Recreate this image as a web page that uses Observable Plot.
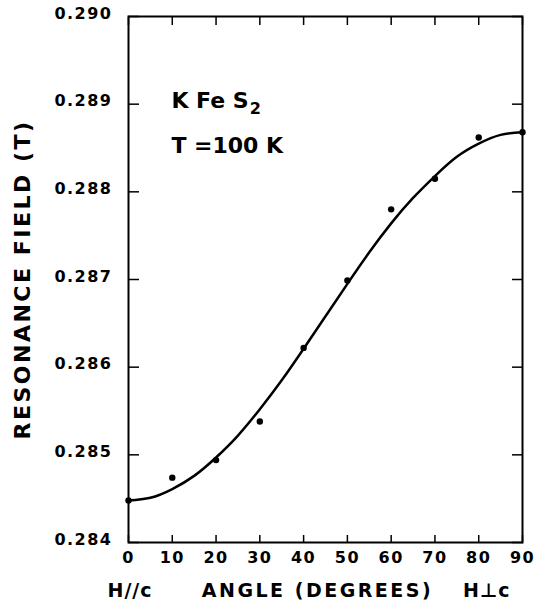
<!DOCTYPE html>
<html>
<head>
<meta charset="utf-8">
<script src="https://cdn.jsdelivr.net/npm/d3@7"></script>
<script src="https://cdn.jsdelivr.net/npm/@observablehq/plot@0.6"></script>
<style>
  html, body { margin: 0; padding: 0; background: #fff; }
  #chart svg { display: block; }
  #chart g[aria-label="x-axis tick label"] text,
  #chart g[aria-label="y-axis tick label"] text { letter-spacing: 1.5px; font-weight: bold; }
</style>
</head>
<body>
<div id="chart"></div>
<script>
// Measured resonance field vs. angle (KFeS2, T = 100 K)
const angles = [0, 10, 20, 30, 40, 50, 60, 70, 80, 90];
const fields = [0.28448, 0.28474, 0.28494, 0.28538, 0.28622, 0.28699, 0.28780, 0.28815, 0.28862, 0.28868];

// Fitted curve
const curveAngles = [0, 5, 10, 15, 20, 25, 30, 35, 40, 45, 50, 55, 60, 65, 70, 75, 80, 85, 90];
const curveFields = [0.28448, 0.28451, 0.28461, 0.28476, 0.28497, 0.28522, 0.28552, 0.28585, 0.28621, 0.28658,
                     0.28695, 0.28731, 0.28764, 0.28793, 0.28818, 0.28840, 0.28855, 0.28865, 0.28868];

const xTicks = [0, 10, 20, 30, 40, 50, 60, 70, 80, 90];
const yTicks = [0.284, 0.285, 0.286, 0.287, 0.288, 0.289, 0.290];

const yLabel = "RESONANCE FIELD (T)";
const xLabelLeft = "H//c";
const xLabelMid = "ANGLE (DEGREES)";
const xLabelRight = "H\u22A5c";
const compound = "K Fe S";
const compoundSub = "2";
const tempLabel = "T =100 K";

const points = angles.map((a, i) => ({angle: a, field: fields[i]}));
const curve = curveAngles.map((a, i) => ({angle: a, field: curveFields[i]}));

const font = "DejaVu Sans, sans-serif";

const chart = Plot.plot({
  width: 534,
  height: 612,
  marginLeft: 128,
  marginRight: 12,
  marginTop: 16,
  marginBottom: 70,
  style: {fontFamily: font, fontSize: "16px", color: "#000", background: "#fff"},
  x: {domain: [0, 90]},
  y: {domain: [0.284, 0.290]},
  marks: [
    Plot.frame({stroke: "#000", strokeWidth: 2}),
    // inward ticks on all four sides
    Plot.axisX(xTicks, {anchor: "bottom", tickSize: -7, fill: "none", label: null, strokeWidth: 1.5}),
    Plot.axisX(xTicks, {anchor: "top", tickSize: -8, fill: "none", label: null, strokeWidth: 1.5}),
    Plot.axisY(yTicks, {anchor: "left", tickSize: -11, fill: "none", label: null, strokeWidth: 1.5}),
    Plot.axisY(yTicks, {anchor: "right", tickSize: -11, fill: "none", label: null, strokeWidth: 1.5}),
    // tick labels
    Plot.axisX(xTicks, {anchor: "bottom", tickSize: 0, tickPadding: 9, label: null, fontSize: 16}),
    Plot.axisY(yTicks, {anchor: "left", tickSize: 0, tickPadding: 16, label: null, fontSize: 16,
      tickFormat: d3.format(".3f"), dy: -3}),
    // fitted curve and data
    Plot.line(curve, {x: "angle", y: "field", curve: "natural", stroke: "#000", strokeWidth: 2.5}),
    Plot.dot(points, {x: "angle", y: "field", r: 3.2, fill: "#000", stroke: "none"}),
    // annotations
    Plot.text([compound], {x: 9.8, y: 0.28896, text: d => d, textAnchor: "start", lineAnchor: "bottom",
      fontSize: 22, fontWeight: "bold", fill: "#000"}),
    Plot.text([tempLabel], {x: 9.8, y: 0.28844, text: d => d, textAnchor: "start", lineAnchor: "bottom",
      fontSize: 22, fontWeight: "bold", fill: "#000"}),
    // axis titles
    Plot.text([yLabel], {frameAnchor: "left", text: d => d, rotate: -90, dx: -106, textAnchor: "middle",
      lineAnchor: "middle", fontSize: 22, fontWeight: "bold", fill: "#000"}),
    Plot.text([xLabelLeft], {x: 0, frameAnchor: "bottom", text: d => d, textAnchor: "start", dx: -21, dy: 48,
      lineAnchor: "middle", fontSize: 19, fontWeight: "bold", fill: "#000"}),
    Plot.text([xLabelMid], {x: 45, frameAnchor: "bottom", text: d => d, textAnchor: "middle", dx: -8, dy: 48,
      lineAnchor: "middle", fontSize: 19, fontWeight: "bold", fill: "#000"}),
    Plot.text([xLabelRight], {x: 90, frameAnchor: "bottom", text: d => d, textAnchor: "end", dx: -12, dy: 48,
      lineAnchor: "middle", fontSize: 19, fontWeight: "bold", fill: "#000"})
  ]
});

// subscript 2 for the compound formula, appended as a real tspan
d3.select(chart).selectAll("text").filter(function() { return this.textContent === compound; })
  .append("tspan").attr("dy", 6).attr("dx", 1).attr("font-size", 16).text(compoundSub);

// letter spacing for titles
d3.select(chart).selectAll("text").filter(function() {
  return [yLabel, xLabelMid].includes(this.textContent);
}).style("letter-spacing", "2.5px");
d3.select(chart).selectAll("text").filter(function() {
  return [xLabelLeft, xLabelRight].includes(this.textContent);
}).style("letter-spacing", "1px");

document.getElementById("chart").appendChild(chart);
</script>
</body>
</html>
